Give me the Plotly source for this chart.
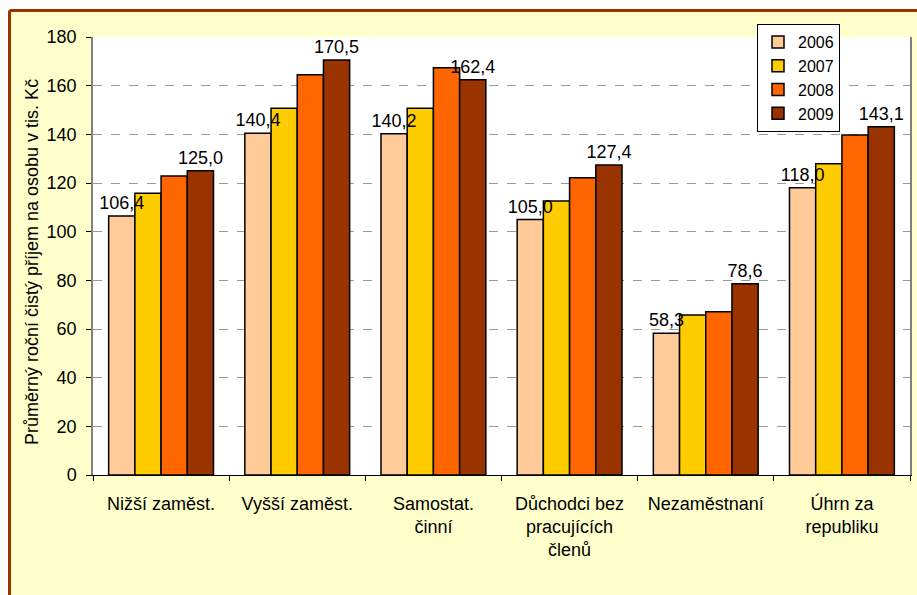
import plotly.graph_objects as go

categories = ["Nižší zaměst.", "Vyšší zaměst.", "Samostat.<br>činní",
              "Důchodci bez<br>pracujících<br>členů", "Nezaměstnaní", "Úhrn za<br>republiku"]
years = ["2006", "2007", "2008", "2009"]
v2006 = [106.4, 140.4, 140.2, 105.0, 58.3, 118.0]
v2007 = [115.8, 150.7, 150.7, 112.6, 65.8, 127.9]
v2008 = [122.9, 164.5, 167.4, 122.2, 67.1, 139.7]
v2009 = [125.0, 170.5, 162.4, 127.4, 78.6, 143.1]
series = [v2006, v2007, v2008, v2009]
colors = ["#FFCC99", "#FFCC00", "#FF6600", "#993300"]
labelled = [True, False, False, True]
y_title = "Průměrný roční čistý příjem na osobu v tis. Kč"

FONT = "Arial, Liberation Sans, sans-serif"

fig = go.Figure()
for name, vals, col in zip(years, series, colors):
    fig.add_trace(go.Bar(
        x=categories, y=vals, name=name, offsetgroup=name,
        marker=dict(color=col, line=dict(color="black", width=1.5)),
    ))
# value labels drawn last so they sit on top of neighbouring bars
for name, vals, lab in zip(years, series, labelled):
    if not lab:
        continue
    fig.add_trace(go.Bar(
        x=categories, y=vals, name=name, offsetgroup=name, showlegend=False,
        marker=dict(color="rgba(0,0,0,0)", line=dict(width=0)),
        text=[f"{v:.1f}".replace(".", ",") for v in vals],
        textposition="outside",
        textfont=dict(size=18, color="black", family=FONT),
        constraintext="none", cliponaxis=False, hoverinfo="skip",
    ))

L, R, T, B = 93, 7, 37, 120
W, H = 917, 595
pw, ph = W - L - R, H - T - B

def px(x):
    return (x - L) / pw

def py(y):
    return (H - B - y) / ph

fig.update_layout(
    width=W, height=H,
    margin=dict(l=L, r=R, t=T, b=B, autoexpand=False),
    paper_bgcolor="#FFFFCC", plot_bgcolor="white",
    barmode="group", bargap=0.23, bargroupgap=0,
    font=dict(family=FONT, size=18, color="black"),
    showlegend=True,
    legend=dict(x=px(757), y=py(24), xanchor="left", yanchor="top",
                bgcolor="white", bordercolor="black", borderwidth=1,
                font=dict(size=16), tracegroupgap=0, itemwidth=30),
    xaxis=dict(showline=True, linecolor="black", linewidth=1,
               ticks="outside", tickson="boundaries", ticklen=5, tickcolor="black",
               tickfont=dict(size=18), showgrid=False, ticklabelstandoff=12),
    yaxis=dict(range=[0, 180], dtick=20, showline=True, linecolor="#808080",
               linewidth=1.5, mirror=True, ticks="outside", ticklen=5,
               tickcolor="black", tickfont=dict(size=18), ticklabelstandoff=6,
               showgrid=True, gridcolor="#999999", griddash="dash", gridwidth=1,
               zeroline=False),
    annotations=[dict(text=y_title, textangle=-90, x=px(32), y=py(262),
                      xref="paper", yref="paper", showarrow=False,
                      xanchor="center", yanchor="middle",
                      font=dict(size=18, family=FONT))],
    shapes=[
        dict(type="rect", xref="paper", yref="paper", x0=px(-5), x1=px(925),
             y0=py(-5), y1=py(9), fillcolor="white", line=dict(width=0), layer="below"),
        dict(type="rect", xref="paper", yref="paper", x0=px(-5), x1=px(8),
             y0=py(-5), y1=py(600), fillcolor="white", line=dict(width=0), layer="below"),
        dict(type="line", xref="paper", yref="paper", x0=px(9.5), x1=px(925),
             y0=py(10.5), y1=py(10.5), line=dict(color="#993300", width=3)),
        dict(type="line", xref="paper", yref="paper", x0=px(9.5), x1=px(9.5),
             y0=py(10.5), y1=py(600), line=dict(color="#993300", width=3)),
    ],
)

fig.write_html("out.html", post_script="document.body.style.margin='0';",
               config={"displayModeBar": False})
